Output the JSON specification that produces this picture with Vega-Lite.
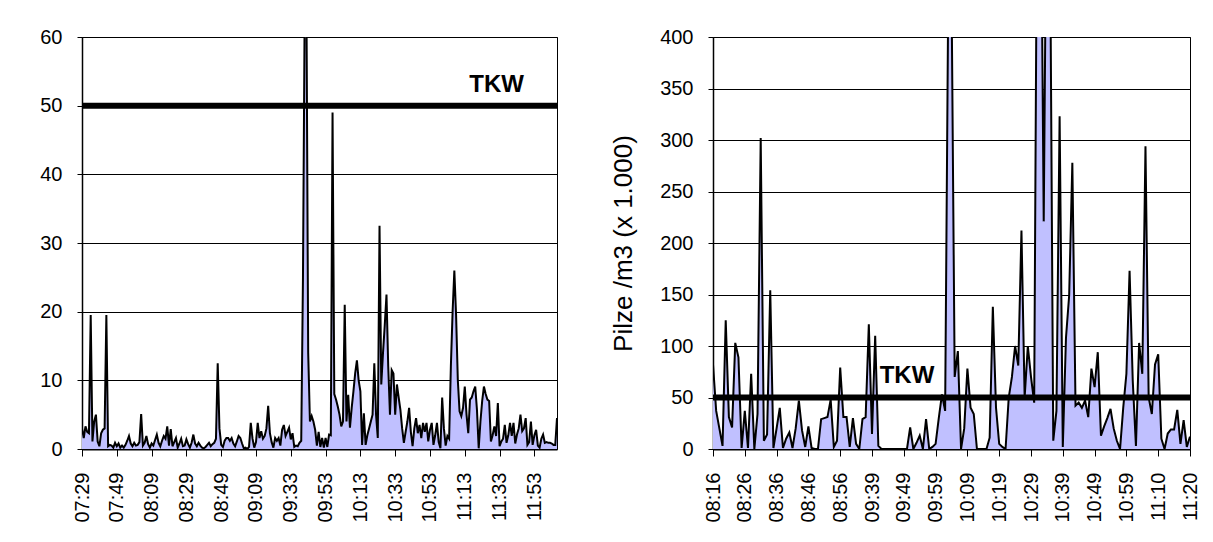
{
"$schema": "https://vega.github.io/schema/vega-lite/v6.json",
"background": "white",
"padding": {"left": 39, "top": 26, "right": 0, "bottom": 0},
"config": {
 "font": "Liberation Sans",
 "view": {"stroke": "black", "strokeWidth": 1},
 "concat": {"spacing": 49},
 "axis": {"labelFont": "Liberation Sans", "labelFontSize": 20, "labelColor": "black", "domainColor": "black", "tickColor": "black", "gridColor": "black", "gridWidth": 1, "gridOpacity": 1, "titleFont": "Liberation Sans", "titleFontSize": 26, "titleFontWeight": "normal", "titleColor": "black"}
},
"datasets": {
"L": [
{"t":"07:29","v":3},{"t":"07:30","v":1.6},{"t":"07:31","v":3.3},{"t":"07:32","v":2.5},{"t":"07:33","v":2.3},{"t":"07:34","v":19.5},{"t":"07:35","v":1.1},{"t":"07:36","v":4},{"t":"07:37","v":5},{"t":"07:38","v":1.1},
{"t":"07:39","v":0.4},{"t":"07:40","v":2.3},{"t":"07:41","v":2.8},{"t":"07:42","v":3},{"t":"07:43","v":19.5},{"t":"07:44","v":0.4},{"t":"07:45","v":0.6},{"t":"07:46","v":0.5},{"t":"07:47","v":0.2},{"t":"07:48","v":0.9},
{"t":"07:49","v":0.4},{"t":"07:50","v":0.8},{"t":"07:51","v":0.2},{"t":"07:52","v":0.5},{"t":"07:53","v":0.2},{"t":"07:54","v":0.6},{"t":"07:55","v":1.2},{"t":"07:56","v":1.9},{"t":"07:57","v":0.8},{"t":"07:58","v":0.4},
{"t":"07:59","v":0.9},{"t":"08:00","v":0.5},{"t":"08:01","v":0.6},{"t":"08:02","v":1},{"t":"08:03","v":5.1},{"t":"08:04","v":0.5},{"t":"08:05","v":0.9},{"t":"08:06","v":1.9},{"t":"08:07","v":0.7},{"t":"08:08","v":0.2},
{"t":"08:09","v":0.8},{"t":"08:10","v":0.5},{"t":"08:11","v":1.3},{"t":"08:12","v":2.1},{"t":"08:13","v":0.9},{"t":"08:14","v":0.4},{"t":"08:15","v":1.2},{"t":"08:16","v":1.9},{"t":"08:17","v":1.5},{"t":"08:18","v":3.3},
{"t":"08:19","v":0.5},{"t":"08:20","v":2.9},{"t":"08:21","v":0.4},{"t":"08:22","v":1},{"t":"08:23","v":1.6},{"t":"08:24","v":0.2},{"t":"08:25","v":0.8},{"t":"08:26","v":1.5},{"t":"08:27","v":0.4},{"t":"08:28","v":0.5},
{"t":"08:29","v":1.4},{"t":"08:30","v":0.7},{"t":"08:31","v":0.2},{"t":"08:32","v":0.9},{"t":"08:33","v":2.1},{"t":"08:34","v":0.8},{"t":"08:35","v":0.4},{"t":"08:36","v":0.9},{"t":"08:37","v":0.5},{"t":"08:38","v":0.2},
{"t":"08:39","v":0.1},{"t":"08:40","v":0.3},{"t":"08:41","v":0.6},{"t":"08:42","v":0.9},{"t":"08:43","v":0.4},{"t":"08:44","v":0.7},{"t":"08:45","v":0.9},{"t":"08:46","v":1.5},{"t":"08:47","v":12.5},{"t":"08:48","v":3},
{"t":"08:49","v":0.6},{"t":"08:50","v":0.3},{"t":"08:51","v":1.2},{"t":"08:52","v":1.6},{"t":"08:53","v":1.6},{"t":"08:54","v":1.2},{"t":"08:55","v":1.6},{"t":"08:56","v":0.8},{"t":"08:57","v":0.4},{"t":"08:58","v":1.1},
{"t":"08:59","v":1.9},{"t":"09:00","v":1.6},{"t":"09:01","v":0.8},{"t":"09:02","v":0.1},{"t":"09:03","v":0.2},{"t":"09:04","v":0},{"t":"09:05","v":0.3},{"t":"09:06","v":3.8},{"t":"09:07","v":1.5},{"t":"09:08","v":0.2},
{"t":"09:09","v":1},{"t":"09:10","v":3.8},{"t":"09:11","v":1.6},{"t":"09:12","v":2.6},{"t":"09:13","v":1.5},{"t":"09:14","v":1.9},{"t":"09:15","v":3},{"t":"09:16","v":6.3},{"t":"09:17","v":2.3},{"t":"09:18","v":1},
{"t":"09:19","v":0.2},{"t":"09:24","v":1.6},{"t":"09:25","v":1.2},{"t":"09:26","v":1.6},{"t":"09:27","v":0.5},{"t":"09:28","v":2.8},{"t":"09:29","v":3.5},{"t":"09:30","v":1.9},{"t":"09:31","v":2.5},{"t":"09:32","v":3.1},
{"t":"09:33","v":1.4},{"t":"09:34","v":2.3},{"t":"09:35","v":0.3},{"t":"09:36","v":0.5},{"t":"09:37","v":0.4},{"t":"09:38","v":0.9},{"t":"09:39","v":1.2},{"t":"09:40","v":25},{"t":"09:41","v":65},{"t":"09:42","v":65},
{"t":"09:43","v":14},{"t":"09:44","v":4},{"t":"09:45","v":4.8},{"t":"09:46","v":4},{"t":"09:47","v":2.8},{"t":"09:48","v":0.5},{"t":"09:49","v":2.5},{"t":"09:50","v":0.3},{"t":"09:51","v":1.6},{"t":"09:52","v":0.2},
{"t":"09:53","v":1.6},{"t":"09:54","v":0.3},{"t":"09:55","v":2.1},{"t":"09:56","v":2},{"t":"09:57","v":49},{"t":"09:58","v":8},{"t":"09:59","v":7.2},{"t":"10:00","v":6.2},{"t":"10:01","v":5},{"t":"10:02","v":3.3},
{"t":"10:03","v":4},{"t":"10:04","v":21},{"t":"10:05","v":4},{"t":"10:06","v":7.9},{"t":"10:07","v":3.1},{"t":"10:08","v":6},{"t":"10:09","v":8.4},{"t":"10:10","v":11},{"t":"10:11","v":12.9},{"t":"10:12","v":10},
{"t":"10:13","v":8.4},{"t":"10:14","v":0.6},{"t":"10:15","v":5.2},{"t":"10:16","v":0.6},{"t":"10:17","v":2},{"t":"10:18","v":3},{"t":"10:19","v":4},{"t":"10:20","v":5},{"t":"10:21","v":12.5},{"t":"10:22","v":5},
{"t":"10:23","v":1.6},{"t":"10:24","v":32.5},{"t":"10:25","v":9.4},{"t":"10:26","v":14},{"t":"10:27","v":18},{"t":"10:28","v":22.5},{"t":"10:29","v":12},{"t":"10:30","v":5},{"t":"10:31","v":11.5},{"t":"10:32","v":11},
{"t":"10:33","v":5},{"t":"10:34","v":9.4},{"t":"10:35","v":7.5},{"t":"10:36","v":5.7},{"t":"10:37","v":3},{"t":"10:38","v":0.9},{"t":"10:39","v":2.5},{"t":"10:40","v":4},{"t":"10:41","v":6},{"t":"10:42","v":2.5},
{"t":"10:43","v":0.4},{"t":"10:44","v":3},{"t":"10:45","v":4.5},{"t":"10:46","v":2.3},{"t":"10:47","v":3.5},{"t":"10:48","v":1.6},{"t":"10:49","v":3.8},{"t":"10:50","v":2.5},{"t":"10:51","v":3.8},{"t":"10:52","v":1.1},
{"t":"10:53","v":2.8},{"t":"10:54","v":3.8},{"t":"10:55","v":0.6},{"t":"10:56","v":2},{"t":"10:57","v":3.8},{"t":"10:58","v":1},{"t":"10:59","v":0.1},{"t":"11:00","v":7.5},{"t":"11:01","v":3},{"t":"11:02","v":0.5},
{"t":"11:03","v":1.9},{"t":"11:04","v":1.5},{"t":"11:05","v":12},{"t":"11:06","v":20},{"t":"11:07","v":26},{"t":"11:08","v":19.5},{"t":"11:09","v":10},{"t":"11:10","v":5.5},{"t":"11:11","v":4.8},{"t":"11:12","v":6},
{"t":"11:13","v":9.1},{"t":"11:14","v":5},{"t":"11:15","v":2.3},{"t":"11:16","v":7.2},{"t":"11:17","v":7.5},{"t":"11:18","v":8.4},{"t":"11:19","v":9.1},{"t":"11:20","v":5.7},{"t":"11:21","v":0.1},{"t":"11:22","v":4},
{"t":"11:23","v":7},{"t":"11:24","v":9.1},{"t":"11:25","v":8},{"t":"11:26","v":7.2},{"t":"11:27","v":7},{"t":"11:28","v":1.1},{"t":"11:29","v":2},{"t":"11:30","v":3.3},{"t":"11:31","v":1.9},{"t":"11:32","v":6.7},
{"t":"11:33","v":0.4},{"t":"11:34","v":1.1},{"t":"11:35","v":1.5},{"t":"11:36","v":3.5},{"t":"11:37","v":0.9},{"t":"11:38","v":2},{"t":"11:39","v":3.8},{"t":"11:40","v":1.9},{"t":"11:41","v":3.8},{"t":"11:42","v":0.8},
{"t":"11:43","v":2.1},{"t":"11:44","v":3},{"t":"11:45","v":5},{"t":"11:46","v":2.6},{"t":"11:47","v":3},{"t":"11:48","v":4.5},{"t":"11:49","v":0.6},{"t":"11:50","v":1},{"t":"11:51","v":4},{"t":"11:52","v":0.6},
{"t":"11:53","v":2},{"t":"11:54","v":2.8},{"t":"11:55","v":0.5},{"t":"11:56","v":0.2},{"t":"11:57","v":1.5},{"t":"11:58","v":2.1},{"t":"11:59","v":0.9},{"t":"12:00","v":1},{"t":"12:01","v":0.9},{"t":"12:02","v":0.9},
{"t":"12:03","v":0.8},{"t":"12:04","v":0.6},{"t":"12:05","v":0.6},{"t":"12:06","v":4.5}
],
"R": [
{"t":"08:16","v":82},{"t":"08:17","v":37},{"t":"08:18","v":20},{"t":"08:19","v":3},{"t":"08:20","v":125},{"t":"08:21","v":31},{"t":"08:22","v":21},{"t":"08:23","v":103},{"t":"08:24","v":89},{"t":"08:25","v":1},
{"t":"08:26","v":37},{"t":"08:27","v":1},{"t":"08:28","v":73},{"t":"08:29","v":0},{"t":"08:30","v":34},{"t":"08:31","v":302},{"t":"08:32","v":8},{"t":"08:33","v":14},{"t":"08:34","v":154},{"t":"08:35","v":1},
{"t":"08:36","v":20},{"t":"08:37","v":40},{"t":"08:38","v":1},{"t":"08:39","v":10},{"t":"08:40","v":16},{"t":"08:41","v":1},{"t":"08:42","v":20},{"t":"08:43","v":47},{"t":"08:44","v":18},{"t":"08:45","v":2},
{"t":"08:46","v":22},{"t":"08:47","v":1},{"t":"08:48","v":0},{"t":"08:49","v":0},{"t":"08:50","v":29},{"t":"08:51","v":30},{"t":"08:52","v":31},{"t":"08:53","v":48},{"t":"08:54","v":2},{"t":"08:55","v":8},
{"t":"08:56","v":79},{"t":"08:57","v":31},{"t":"08:58","v":31},{"t":"08:59","v":2},{"t":"09:00","v":30},{"t":"09:01","v":5},{"t":"09:35","v":0},{"t":"09:36","v":29},{"t":"09:37","v":31},{"t":"09:38","v":121},
{"t":"09:39","v":14.5},{"t":"09:40","v":110},{"t":"09:41","v":3},{"t":"09:42","v":0},{"t":"09:43","v":0},{"t":"09:44","v":0},{"t":"09:45","v":0},{"t":"09:46","v":0},{"t":"09:47","v":0},{"t":"09:48","v":0},
{"t":"09:49","v":0},{"t":"09:50","v":0},{"t":"09:51","v":21},{"t":"09:52","v":0},{"t":"09:53","v":6},{"t":"09:54","v":13},{"t":"09:55","v":0},{"t":"09:56","v":29},{"t":"09:57","v":0},{"t":"09:58","v":2},
{"t":"09:59","v":5},{"t":"10:00","v":30},{"t":"10:01","v":53},{"t":"10:02","v":37},{"t":"10:03","v":450},{"t":"10:04","v":450},{"t":"10:05","v":70},{"t":"10:06","v":95},{"t":"10:07","v":0},{"t":"10:08","v":20},
{"t":"10:09","v":78},{"t":"10:10","v":40},{"t":"10:11","v":34},{"t":"10:12","v":0},{"t":"10:13","v":0},{"t":"10:14","v":0},{"t":"10:15","v":0},{"t":"10:16","v":11},{"t":"10:17","v":138},{"t":"10:18","v":40},
{"t":"10:19","v":5},{"t":"10:20","v":2},{"t":"10:21","v":0},{"t":"10:22","v":50},{"t":"10:23","v":70},{"t":"10:24","v":100},{"t":"10:25","v":81},{"t":"10:26","v":212},{"t":"10:27","v":50},{"t":"10:28","v":100},
{"t":"10:29","v":70},{"t":"10:30","v":45},{"t":"10:31","v":600},{"t":"10:32","v":600},{"t":"10:33","v":221},{"t":"10:34","v":600},{"t":"10:35","v":500},{"t":"10:36","v":8},{"t":"10:37","v":37},{"t":"10:38","v":323},
{"t":"10:39","v":2},{"t":"10:40","v":108},{"t":"10:41","v":149},{"t":"10:42","v":278},{"t":"10:43","v":42},{"t":"10:44","v":45},{"t":"10:45","v":40},{"t":"10:46","v":47},{"t":"10:47","v":31},{"t":"10:48","v":78},
{"t":"10:49","v":60},{"t":"10:50","v":94},{"t":"10:51","v":13},{"t":"10:52","v":22},{"t":"10:53","v":30},{"t":"10:54","v":39},{"t":"10:55","v":20},{"t":"10:56","v":8},{"t":"10:57","v":0},{"t":"10:58","v":40},
{"t":"10:59","v":73},{"t":"11:00","v":173},{"t":"11:01","v":66},{"t":"11:02","v":3},{"t":"11:03","v":103},{"t":"11:04","v":73},{"t":"11:06","v":294},{"t":"11:07","v":50},{"t":"11:08","v":34},{"t":"11:09","v":82},
{"t":"11:10","v":92},{"t":"11:11","v":10},{"t":"11:12","v":0},{"t":"11:13","v":15},{"t":"11:14","v":19},{"t":"11:15","v":19},{"t":"11:16","v":38},{"t":"11:17","v":5},{"t":"11:18","v":28},{"t":"11:19","v":2},
{"t":"11:20","v":12}
]
},
"hconcat": [
{
 "width": 475, "height": 412,
 "layer": [
  {"data": {"name": "L"}, "mark": {"type": "area", "color": "#c0c0ff", "clip": true},
   "encoding": {
    "x": {"field": "t", "type": "ordinal", "scale": {"type": "point", "padding": 0},
      "axis": {"values": ["07:29","07:49","08:09","08:29","08:49","09:09","09:33","09:53","10:13","10:33","10:53","11:13","11:33","11:53"], "labelAngle": -90, "title": null, "tickSize": 7, "labelPadding": 16, "domainWidth": 2, "grid": false}},
    "y": {"field": "v", "type": "quantitative", "scale": {"domain": [0, 60], "nice": false},
      "axis": {"values": [0,10,20,30,40,50,60], "title": null, "tickSize": 5, "labelPadding": 15, "grid": true, "domainWidth": 1.5}}
   }},
  {"data": {"name": "L"}, "mark": {"type": "line", "color": "black", "strokeWidth": 2, "clip": true},
   "encoding": {"x": {"field": "t", "type": "ordinal"}, "y": {"field": "v", "type": "quantitative"}}},
  {"data": {"values": [{"v": 50}]}, "mark": {"type": "rule", "color": "black", "strokeWidth": 6},
   "encoding": {"y": {"field": "v", "type": "quantitative"}}},
  {"data": {"values": [{"t": "11:47", "v": 52, "label": "TKW"}]},
   "mark": {"type": "text", "fontSize": 24, "fontWeight": "bold", "align": "right", "baseline": "alphabetic", "font": "Liberation Sans", "color": "black"},
   "encoding": {"x": {"field": "t", "type": "ordinal"}, "y": {"field": "v", "type": "quantitative"}, "text": {"field": "label"}}}
 ]
},
{
 "width": 477, "height": 412,
 "layer": [
  {"data": {"name": "R"}, "mark": {"type": "area", "color": "#c0c0ff", "clip": true},
   "encoding": {
    "x": {"field": "t", "type": "ordinal", "scale": {"type": "point", "padding": 0},
      "axis": {"values": ["08:16","08:26","08:36","08:46","08:56","09:39","09:49","09:59","10:09","10:19","10:29","10:39","10:49","10:59","11:10","11:20"], "labelAngle": -90, "title": null, "tickSize": 7, "labelPadding": 16, "domainWidth": 2, "grid": false}},
    "y": {"field": "v", "type": "quantitative", "scale": {"domain": [0, 400], "nice": false},
      "axis": {"values": [0,50,100,150,200,250,300,350,400], "title": "Pilze /m3 (x 1.000)", "titlePadding": 23, "tickSize": 5, "labelPadding": 15, "grid": true, "domainWidth": 1.5}}
   }},
  {"data": {"name": "R"}, "mark": {"type": "line", "color": "black", "strokeWidth": 2, "clip": true},
   "encoding": {"x": {"field": "t", "type": "ordinal"}, "y": {"field": "v", "type": "quantitative"}}},
  {"data": {"values": [{"v": 50}]}, "mark": {"type": "rule", "color": "black", "strokeWidth": 6},
   "encoding": {"y": {"field": "v", "type": "quantitative"}}},
  {"data": {"values": [{"t": "09:50", "v": 64, "label": "TKW"}]},
   "mark": {"type": "text", "fontSize": 24, "fontWeight": "bold", "align": "center", "baseline": "alphabetic", "font": "Liberation Sans", "color": "black"},
   "encoding": {"x": {"field": "t", "type": "ordinal"}, "y": {"field": "v", "type": "quantitative"}, "text": {"field": "label"}}}
 ]
}
]
}
